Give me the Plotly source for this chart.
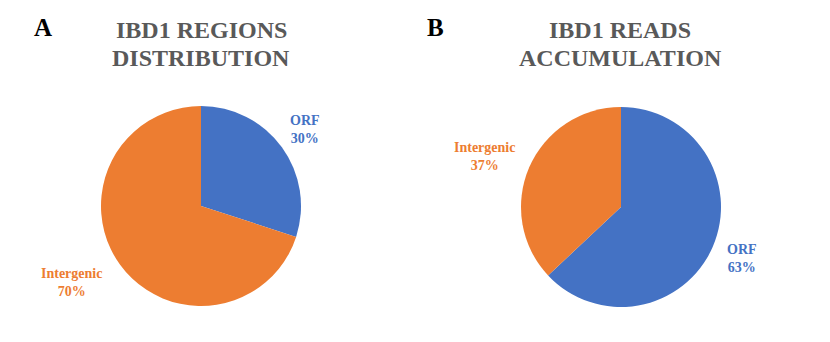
import plotly.graph_objects as go

W, H = 830, 342

# chart data
categories = ["ORF", "Intergenic"]
regions_pct = [30, 70]
reads_pct = [63, 37]
panel_titles = [["IBD1 REGIONS", "DISTRIBUTION"], ["IBD1 READS", "ACCUMULATION"]]
panel_letters = ["A", "B"]

colors = {"ORF": "#4472C4", "Intergenic": "#ED7D31"}
serif = "Liberation Serif, Times New Roman, serif"


def px(x):
    return x / W


def py(y):
    return 1 - y / H


def domain(cx, cy, r):
    return dict(x=[px(cx - r), px(cx + r)], y=[py(cy + r), py(cy - r)])


fig = go.Figure()

# pie A: regions distribution
fig.add_trace(go.Pie(
    labels=categories, values=regions_pct,
    marker=dict(colors=[colors[c] for c in categories]),
    sort=False, direction="clockwise", rotation=0,
    textinfo="none", hoverinfo="label+percent",
    domain=domain(201, 206, 100), showlegend=False,
))

# pie B: reads accumulation
fig.add_trace(go.Pie(
    labels=categories, values=reads_pct,
    marker=dict(colors=[colors[c] for c in categories]),
    sort=False, direction="clockwise", rotation=0,
    textinfo="none", hoverinfo="label+percent",
    domain=domain(621, 207, 100), showlegend=False,
))

annotations = []

# panel letters and titles
letter_pos = [(43, 27), (435, 27)]
title_x = [201, 620]
for i in range(2):
    annotations.append(dict(
        text="<b>%s</b>" % panel_letters[i], x=px(letter_pos[i][0]), y=py(letter_pos[i][1]),
        xref="paper", yref="paper", showarrow=False, xanchor="center", yanchor="middle",
        font=dict(family=serif, size=25, color="black"),
    ))
    for j, line in enumerate(panel_titles[i]):
        annotations.append(dict(
            text="<b>%s</b>" % line, x=px(title_x[i]), y=py(30 + 28 * j),
            xref="paper", yref="paper", showarrow=False, xanchor="center", yanchor="middle",
            font=dict(family=serif, size=24, color="#595959"),
        ))

# slice labels, placed outside the pies like the original
label_pos = [
    {"ORF": (305, 130), "Intergenic": (71, 282)},
    {"ORF": (742, 258), "Intergenic": (484, 156)},
]
for i, vals in enumerate([regions_pct, reads_pct]):
    for cat, v in zip(categories, vals):
        x, y = label_pos[i][cat]
        annotations.append(dict(
            text="<b>%s<br>%d%%</b>" % (cat, v), x=px(x), y=py(y),
            xref="paper", yref="paper", showarrow=False, xanchor="center", yanchor="middle",
            font=dict(family=serif, size=14, color=colors[cat]),
        ))

fig.update_layout(
    width=W, height=H,
    margin=dict(l=0, r=0, t=0, b=0),
    paper_bgcolor="white", plot_bgcolor="white",
    annotations=annotations,
)

# drop the default page margin so the figure sits at the window's corner
fig.write_html("out.html", config={"displayModeBar": False},
               post_script="document.body.style.margin='0';")
